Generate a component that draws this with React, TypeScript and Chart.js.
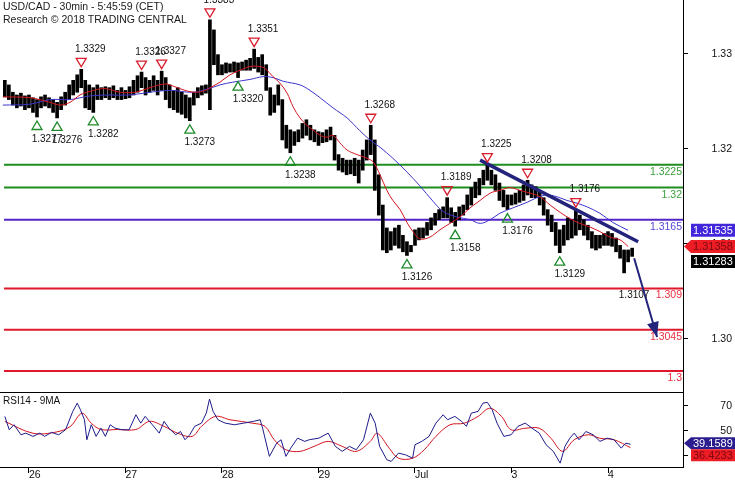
import { useEffect, useRef } from 'react';
import { Chart, registerables } from 'chart.js';

Chart.register(...registerables);

const FONT = '"Liberation Sans", Arial, sans-serif';

// ---- time axis (hours from the start of the 26th) ----
const DAY_TICKS = [0, 24, 48, 72, 96, 120, 144];
const DAY_LABELS = ['26', '27', '28', '29', 'Jul', '3', '4'];
const X_MIN = -7.2;
const X_MAX = 162.65;

// ---- price bars (hourly high / low) ----
const FIRST_BAR_HOUR = -6;
const HIGHS = [
  1.3317, 1.3312, 1.3304, 1.3301, 1.3303, 1.3300, 1.3301, 1.3298, 1.3296, 1.3299,
  1.3301, 1.3298, 1.3296, 1.3293, 1.3299, 1.3304, 1.3312, 1.3317, 1.3323, 1.3329,
  1.3317, 1.3312, 1.3309, 1.3312, 1.3309, 1.3310, 1.3309, 1.3311, 1.3306, 1.3309,
  1.3306, 1.3310, 1.3317, 1.3322, 1.3326, 1.3320, 1.3317, 1.3322, 1.3317, 1.3327,
  1.3320, 1.3312, 1.3306, 1.3309, 1.3304, 1.3301, 1.3298, 1.3304, 1.3309, 1.3311,
  1.3312, 1.3383, 1.3372, 1.3345, 1.3334, 1.3336, 1.3335, 1.3337, 1.3336, 1.3337,
  1.3339, 1.3341, 1.3351, 1.3342, 1.3345, 1.3334, 1.3309, 1.3301, 1.3312, 1.3296,
  1.3268, 1.3263, 1.3261, 1.3263, 1.3270, 1.3274, 1.3268, 1.3263, 1.3261, 1.3260,
  1.3263, 1.3266, 1.3257, 1.3236, 1.3232, 1.3230, 1.3230, 1.3232, 1.3230, 1.3241,
  1.3252, 1.3268, 1.3252, 1.3214, 1.3181, 1.3156, 1.3152, 1.3156, 1.3159, 1.3148,
  1.3141, 1.3137, 1.3154, 1.3156, 1.3156, 1.3162, 1.3167, 1.3172, 1.3176, 1.3179,
  1.3189, 1.3178, 1.3173, 1.3179, 1.3181, 1.3192, 1.3200, 1.3206, 1.3210, 1.3219,
  1.3225, 1.3219, 1.3214, 1.3205, 1.3197, 1.3192, 1.3192, 1.3194, 1.3197, 1.3203,
  1.3208, 1.3203, 1.3201, 1.3197, 1.3189, 1.3176, 1.3170, 1.3162, 1.3154, 1.3159,
  1.3167, 1.3165, 1.3176, 1.3170, 1.3165, 1.3159, 1.3152, 1.3148, 1.3148, 1.3150,
  1.3152, 1.3150, 1.3145, 1.3137, 1.3132, 1.3132, 1.3134,
];
const LOWS = [
  1.3299, 1.3296, 1.3290, 1.3287, 1.3289, 1.3285, 1.3287, 1.3282, 1.3277, 1.3287,
  1.3289, 1.3287, 1.3282, 1.3276, 1.3285, 1.3290, 1.3296, 1.3301, 1.3304, 1.3309,
  1.3287, 1.3285, 1.3282, 1.3296, 1.3296, 1.3298, 1.3296, 1.3298, 1.3296, 1.3296,
  1.3297, 1.3298, 1.3301, 1.3304, 1.3309, 1.3301, 1.3304, 1.3306, 1.3301, 1.3306,
  1.3296, 1.3287, 1.3285, 1.3282, 1.3280, 1.3276, 1.3273, 1.3290, 1.3298, 1.3301,
  1.3303, 1.3285, 1.3334, 1.3323, 1.3323, 1.3325, 1.3326, 1.3326, 1.3320, 1.3328,
  1.3328, 1.3328, 1.3330, 1.3326, 1.3323, 1.3306, 1.3279, 1.3282, 1.3290, 1.3252,
  1.3243, 1.3238, 1.3246, 1.3250, 1.3254, 1.3257, 1.3252, 1.3250, 1.3246, 1.3249,
  1.3250, 1.3252, 1.3230, 1.3219, 1.3217, 1.3214, 1.3215, 1.3213, 1.3205, 1.3219,
  1.3230, 1.3236, 1.3197, 1.3170, 1.3132, 1.3129, 1.3132, 1.3137, 1.3134, 1.3130,
  1.3126, 1.3130, 1.3137, 1.3143, 1.3145, 1.3148, 1.3154, 1.3159, 1.3165, 1.3167,
  1.3167, 1.3162, 1.3158, 1.3165, 1.3170, 1.3176, 1.3181, 1.3189, 1.3192, 1.3203,
  1.3208, 1.3203, 1.3197, 1.3186, 1.3179, 1.3176, 1.3181, 1.3182, 1.3184, 1.3186,
  1.3192, 1.3189, 1.3189, 1.3181, 1.3170, 1.3159, 1.3152, 1.3137, 1.3129, 1.3137,
  1.3143, 1.3145, 1.3148, 1.3154, 1.3148, 1.3143, 1.3134, 1.3132, 1.3134, 1.3137,
  1.3137, 1.3136, 1.3130, 1.3123, 1.3107, 1.3119, 1.3125,
];
const LAST_CLOSE = 1.31283;

// ---- moving averages on price ----
const RED_MA_H = [
  -6.5, 0.3, 5.2, 7.7, 10.2, 12.7, 15.2, 18.9, 22.6, 26.4, 30.1, 33.8, 36.3, 38.8, 41.3,
  43.8, 45.5, 47.5, 50.0, 52.5, 55.0, 57.5, 58.7, 60.7, 62.4, 64.2, 65.7, 67.4, 69.1, 70.6,
  72.4, 74.1, 75.6, 77.3, 79.1, 81.6, 84.1, 85.6, 87.3, 89.0, 90.5, 92.3, 94.0, 95.5, 97.2,
  99.7, 102.2, 104.7, 107.2, 109.7, 112.2, 114.7, 117.1, 119.6, 122.1, 124.6, 127.1, 129.6,
  132.1, 134.6, 137.0, 139.5, 142.0, 144.5, 147.0, 149.0,
];
const RED_MA_V = [
  1.3299, 1.3298, 1.3293, 1.3290, 1.3293, 1.3301, 1.3305, 1.3308, 1.3304, 1.3304, 1.3309,
  1.3313, 1.3310, 1.3306, 1.3304, 1.3306, 1.3310, 1.3315, 1.3323, 1.3328, 1.3332, 1.3332,
  1.3330, 1.3321, 1.3314, 1.3303, 1.3288, 1.3276, 1.3268, 1.3263, 1.3257, 1.3255, 1.3257,
  1.3249, 1.3241, 1.3236, 1.3232, 1.3228, 1.3214, 1.3197, 1.3186, 1.3176, 1.3162, 1.3152,
  1.3144, 1.3146, 1.3154, 1.3161, 1.3168, 1.3178, 1.3186, 1.3194, 1.3197, 1.3200, 1.3197,
  1.3194, 1.3190, 1.3181, 1.3173, 1.3166, 1.3161, 1.3157, 1.3152, 1.3146, 1.3143, 1.31358,
];
const BLUE_MA_H = [
  -6.5, 0.3, 5.2, 10.2, 15.2, 20.1, 25.1, 30.1, 35.1, 40.0, 42.5, 47.5, 50.7, 55.0, 58.2,
  60.7, 63.2, 67.4, 69.9, 72.4, 75.6, 79.1, 82.3, 84.8, 87.3, 90.5, 94.0, 97.2, 100.5, 103.0,
  106.4, 109.7, 112.2, 114.7, 117.1, 120.4, 123.9, 126.3, 128.8, 131.3, 133.8, 136.3, 138.8,
  142.0, 145.2, 149.0,
];
const BLUE_MA_V = [
  1.3290, 1.3291, 1.3296, 1.3296, 1.3300, 1.3301, 1.3301, 1.3304, 1.3306, 1.3304, 1.3305,
  1.3312, 1.3315, 1.3318, 1.3321, 1.3320, 1.3316, 1.3312, 1.3306, 1.3298, 1.3287, 1.3276,
  1.3262, 1.3252, 1.3244, 1.3232, 1.3217, 1.3202, 1.3185, 1.3174, 1.3168, 1.3165, 1.3161,
  1.3165, 1.3172, 1.3178, 1.3184, 1.3189, 1.3192, 1.3190, 1.3186, 1.3183, 1.3179, 1.3172,
  1.3162, 1.31535,
];

// ---- support / resistance levels ----
const LEVELS = [1.3225, 1.32, 1.3165, 1.309, 1.3045, 1.3];
const LEVEL_START_H = -6.2;

// ---- trend line and projection arrow ----
const TREND_H = [112.2, 151.5];
const TREND_V = [1.323, 1.3141];
const ARROW_H = [150.5, 156.2];
const ARROW_V = [1.3123, 1.3037];

// ---- pivots ----
const PIVOT_HIGH_H = [13, 28, 33, 45, 56, 85, 104, 114, 124, 136];
const PIVOT_HIGH_V = [1.3329, 1.3326, 1.3327, 1.3383, 1.3351, 1.3268, 1.3189, 1.3225, 1.3208, 1.3176];
const PIVOT_LOW_H = [2, 7, 16, 40, 52, 65, 94, 106, 119, 132, 148];
const PIVOT_LOW_V = [1.3277, 1.3276, 1.3282, 1.3273, 1.332, 1.3238, 1.3126, 1.3158, 1.3176, 1.3129, 1.3107];
const PIVOT_LOW_MARKED = [true, true, true, true, true, true, true, true, true, true, false];

// ---- price axis (as printed) ----
const PRICE_AXIS_TICKS = [1.3, 1.31, 1.32, 1.33];

// ---- RSI ----
const RSI_H = [
  -6.0, -4.9, -3.7, -2.0, -0.8, 1.0, 2.7, 3.9, 5.6, 7.4, 9.1, 10.9, 12.0, 12.8, 13.8, 14.4,
  15.5, 16.7, 17.9, 19.0, 20.2, 21.4, 23.1, 24.9, 26.6, 27.8, 28.9, 30.7, 32.4, 33.6, 34.8,
  36.5, 37.7, 38.8, 40.0, 41.2, 42.9, 44.1, 44.9, 45.8, 47.0, 48.8, 51.1, 53.4, 55.8, 57.5,
  58.1, 59.8, 61.6, 62.7, 63.9, 65.1, 66.8, 68.6, 69.7, 72.1, 74.4, 76.2, 77.9, 79.7, 81.4,
  83.2, 84.9, 86.1, 87.2, 89.0, 90.1, 91.9, 93.6, 95.4, 96.0, 97.7, 99.5, 101.2, 103.0, 104.1,
  105.9, 107.6, 108.8, 110.0, 111.7, 112.9, 114.0, 115.2, 116.4, 118.1, 119.9, 121.6, 123.4,
  125.1, 126.9, 128.6, 130.4, 132.1, 133.3, 134.5, 135.6, 136.8, 138.5, 140.3, 142.0, 143.8,
  145.5, 147.3, 148.4, 149.6,
];
const RSI_V = [
  61.5, 50.8, 54.8, 46.8, 48.1, 45.5, 48.1, 45.5, 48.7, 46.8, 50.8, 65.5, 72.1, 66.8, 58.8, 42.8,
  54.8, 45.5, 52.1, 45.5, 54.8, 52.1, 50.8, 50.8, 62.8, 56.1, 61.5, 54.8, 48.1, 57.5, 52.1,
  46.8, 49.4, 42.8, 46.8, 53.5, 56.1, 64.1, 75.3, 65.5, 58.8, 56.1, 54.8, 56.1, 57.5, 58.8,
  52.1, 29.5, 40.1, 42.8, 29.5, 36.1, 44.1, 41.5, 42.8, 44.1, 48.1, 37.5, 33.5, 37.5, 34.8,
  42.8, 64.1, 56.1, 37.5, 26.8, 25.5, 32.1, 30.8, 28.1, 38.8, 41.5, 45.5, 56.1, 62.8, 58.8,
  61.5, 57.5, 53.5, 64.1, 65.5, 72.1, 72.7, 66.8, 56.1, 45.5, 46.8, 53.5, 56.1,
  52.1, 48.1, 38.8, 33.5, 24.1, 37.5, 44.1, 48.1, 42.8, 49.4, 46.8, 41.5, 44.1,
  42.8, 36.1, 40.1, 39.1589,
];
const RSI_MA_H = [
  -6.0, 1.0, 6.8, 10.3, 13.2, 15.5, 17.9, 22.0, 26.6, 30.0, 33.6, 37.0, 40.6, 42.9, 46.4, 50.0,
  55.7, 58.7, 61.0, 63.9, 67.4, 70.9, 74.4, 77.9, 81.4, 84.9, 86.6, 89.6, 91.9, 95.4, 98.3,
  101.2, 104.7, 108.2, 111.7, 114.6, 117.5, 119.9, 123.4, 126.9, 129.8, 132.7, 135.6, 139.1,
  142.0, 145.5, 149.6,
];
const RSI_MA_V = [
  57.5, 48.0, 49.0, 53.5, 64.0, 56.0, 51.0, 51.0, 51.0, 57.5, 53.5, 48.0, 45.5, 53.5, 61.5, 58.8,
  56.0, 53.5, 42.8, 34.8, 33.5, 37.5, 41.5, 37.5, 33.5, 41.5, 48.0, 36.0, 28.0, 28.0, 34.8,
  45.5, 54.8, 56.0, 61.5, 68.0, 61.5, 50.8, 52.0, 52.0, 44.0, 33.5, 42.8, 46.8,
  44.0, 42.8, 36.4233,
];
const RSI_TICKS = [30, 50, 70];

// ---- styles ----
const C_RED_MA = '#d3141e';
const C_BLUE_MA = '#3b35cc';
const C_RSI = '#1d1b8a';
const C_RSI_MA = '#d3141e';
const C_TREND = '#23237c';
const LEVEL_LINE_COLORS = ['#1e8c1e', '#1e8c1e', '#5424c8', '#e0182c', '#e0182c', '#e0182c'];
const LEVEL_TEXT_COLORS = ['#3a9f3a', '#3a9f3a', '#5546d8', '#e8303e', '#e8303e', '#e8303e'];

const zip = (xs: number[], ys: number[]) => xs.map((x, i) => ({ x, y: ys[i] }));

const noPad = (s: any) => {
  s.paddingTop = 0;
  s.paddingBottom = 0;
  s.paddingLeft = 0;
  s.paddingRight = 0;
};

function drawTag(ctx: CanvasRenderingContext2D, yc: number, text: string, bg: string, fg: string, pointer: boolean, h = 13) {
  const left = 691;
  const right = 735;
  ctx.fillStyle = bg;
  ctx.beginPath();
  if (pointer) {
    ctx.moveTo(684, yc);
    ctx.lineTo(left, yc - h / 2);
  } else {
    ctx.moveTo(left, yc - h / 2);
  }
  ctx.lineTo(right, yc - h / 2);
  ctx.lineTo(right, yc + h / 2);
  ctx.lineTo(left, yc + h / 2);
  ctx.closePath();
  ctx.fill();
  ctx.fillStyle = fg;
  ctx.font = `11px ${FONT}`;
  ctx.textAlign = 'left';
  ctx.textBaseline = 'middle';
  ctx.fillText(text, left + 2, yc + 0.5);
}

function tri(ctx: CanvasRenderingContext2D, cx: number, cy: number, down: boolean, color: string) {
  ctx.beginPath();
  if (down) {
    ctx.moveTo(cx - 5, cy - 4);
    ctx.lineTo(cx + 5, cy - 4);
    ctx.lineTo(cx, cy + 4.5);
  } else {
    ctx.moveTo(cx - 5, cy + 4);
    ctx.lineTo(cx + 5, cy + 4);
    ctx.lineTo(cx, cy - 4.5);
  }
  ctx.closePath();
  ctx.strokeStyle = color;
  ctx.lineWidth = 1.3;
  ctx.stroke();
}

const mainOverlay = {
  id: 'mainOverlay',
  afterDatasetsDraw(chart: any) {
    const { ctx, chartArea } = chart;
    const x = chart.scales.x;
    const y = chart.scales.y;
    ctx.save();
    // level labels
    ctx.font = `10.5px ${FONT}`;
    ctx.textAlign = 'right';
    ctx.textBaseline = 'middle';
    LEVELS.forEach((lv, i) => {
      ctx.fillStyle = LEVEL_TEXT_COLORS[i];
      ctx.fillText(String(lv), chartArea.right - 1, y.getPixelForValue(lv) + 7);
    });
    // arrow head
    const x0 = x.getPixelForValue(ARROW_H[0]);
    const y0 = y.getPixelForValue(ARROW_V[0]);
    const x1 = x.getPixelForValue(ARROW_H[1]);
    const y1 = y.getPixelForValue(ARROW_V[1]);
    const len = Math.hypot(x1 - x0, y1 - y0);
    const dx = (x1 - x0) / len;
    const dy = (y1 - y0) / len;
    ctx.fillStyle = C_TREND;
    ctx.beginPath();
    ctx.moveTo(x1, y1);
    ctx.lineTo(x1 - dx * 15 - dy * 6, y1 - dy * 15 + dx * 6);
    ctx.lineTo(x1 - dx * 15 + dy * 6, y1 - dy * 15 - dx * 6);
    ctx.closePath();
    ctx.fill();
    // pivots
    ctx.font = `10px ${FONT}`;
    ctx.textAlign = 'center';
    ctx.fillStyle = '#111';
    PIVOT_HIGH_H.forEach((h, i) => {
      const px = x.getPixelForValue(h);
      const py = y.getPixelForValue(PIVOT_HIGH_V[i]);
      tri(ctx, px, py - 7, true, '#d81e2c');
      ctx.fillStyle = '#111';
      ctx.fillText(PIVOT_HIGH_V[i].toFixed(4), px + 9, py - 20);
    });
    PIVOT_LOW_H.forEach((h, i) => {
      const px = x.getPixelForValue(h);
      const py = y.getPixelForValue(PIVOT_LOW_V[i]);
      if (PIVOT_LOW_MARKED[i]) tri(ctx, px, py + 8.5, false, '#1f8a2a');
      ctx.fillStyle = '#111';
      ctx.fillText(PIVOT_LOW_V[i].toFixed(4), px + 10, py + 22);
    });
    ctx.restore();
  },
  afterDraw(chart: any) {
    const { ctx } = chart;
    const y = chart.scales.y;
    ctx.save();
    // title
    ctx.font = `10.5px ${FONT}`;
    ctx.fillStyle = '#1a1a1a';
    ctx.textAlign = 'left';
    ctx.textBaseline = 'middle';
    ctx.fillText('USD/CAD - 30min - 5:45:59 (CET)', 3, 7);
    ctx.fillText('Research \u00A9 2018 TRADING CENTRAL', 3, 20);
    // value tags
    const tags = [
      { v: BLUE_MA_V[BLUE_MA_V.length - 1], bg: '#4126dc', fg: '#fff', pointer: false },
      { v: RED_MA_V[RED_MA_V.length - 1], bg: '#ee1c25', fg: '#7a0a10', pointer: true },
      { v: LAST_CLOSE, bg: '#000', fg: '#fff', pointer: false },
    ];
    let prev = -100;
    tags.forEach((t) => {
      let yc = y.getPixelForValue(t.v);
      if (yc < prev + 15) yc = prev + 15;
      prev = yc;
      drawTag(ctx, yc, t.v.toFixed(5), t.bg, t.fg, t.pointer);
    });
    ctx.restore();
  },
};

const rsiOverlay = {
  id: 'rsiOverlay',
  afterDraw(chart: any) {
    const { ctx, chartArea } = chart;
    const y = chart.scales.y;
    ctx.save();
    ctx.strokeStyle = '#000';
    ctx.lineWidth = 1;
    ctx.beginPath();
    ctx.moveTo(0, 0.5);
    ctx.lineTo(chartArea.right, 0.5);
    ctx.stroke();
    ctx.font = `10px ${FONT}`;
    ctx.fillStyle = '#111';
    ctx.textAlign = 'left';
    ctx.textBaseline = 'middle';
    ctx.fillText('RSI14 - 9MA', 3, 9);
    const vBlue = RSI_V[RSI_V.length - 1];
    const vRed = RSI_MA_V[RSI_MA_V.length - 1];
    const yb = y.getPixelForValue(vBlue) - 1;
    let yr = y.getPixelForValue(vRed);
    if (yr < yb + 12) yr = yb + 12;
    drawTag(ctx, yb, vBlue.toFixed(4), '#2b1d8e', '#fff', true, 12);
    drawTag(ctx, yr, vRed.toFixed(4), '#ee1c25', '#7a0a10', false, 12);
    ctx.restore();
  },
};

export default function App() {
  const mainRef = useRef<HTMLCanvasElement>(null);
  const rsiRef = useRef<HTMLCanvasElement>(null);

  useEffect(() => {
    const levelSets = LEVELS.map((lv, i) => ({
      type: 'line' as const,
      data: [
        { x: LEVEL_START_H, y: lv },
        { x: X_MAX, y: lv },
      ],
      borderColor: LEVEL_LINE_COLORS[i],
      borderWidth: 2,
      pointRadius: 0,
      order: 10,
    }));

    const main = new Chart(mainRef.current as HTMLCanvasElement, {
      type: 'bar',
      data: {
        datasets: [
          ...levelSets,
          {
            type: 'bar' as const,
            data: HIGHS.map((hi, i) => ({ x: FIRST_BAR_HOUR + i, y: [LOWS[i], hi] })) as any,
            backgroundColor: '#000',
            borderWidth: 0,
            barThickness: 3,
            order: 5,
          },
          {
            type: 'line' as const,
            data: zip(BLUE_MA_H, BLUE_MA_V),
            borderColor: C_BLUE_MA,
            borderWidth: 1,
            pointRadius: 0,
            tension: 0.35,
            order: 3,
          },
          {
            type: 'line' as const,
            data: zip(RED_MA_H, RED_MA_V),
            borderColor: C_RED_MA,
            borderWidth: 1,
            pointRadius: 0,
            tension: 0.35,
            order: 2,
          },
          {
            type: 'line' as const,
            data: zip(TREND_H, TREND_V),
            borderColor: C_TREND,
            borderWidth: 3.5,
            pointRadius: 0,
            order: 1,
          },
          {
            type: 'line' as const,
            data: zip(ARROW_H, ARROW_V),
            borderColor: C_TREND,
            borderWidth: 2,
            pointRadius: 0,
            order: 1,
          },
        ] as any,
      },
      options: {
        responsive: false,
        animation: false,
        events: [],
        layout: { padding: { left: 0, right: 3, top: 0, bottom: 0 } },
        plugins: { legend: { display: false }, tooltip: { enabled: false } },
        scales: {
          x: { type: 'linear', min: X_MIN, max: X_MAX, display: false, offset: false },
          y: { type: 'linear', min: 1.29771, max: 1.34046, display: false },
          yr: {
            type: 'linear',
            position: 'right',
            min: 1.29442,
            max: 1.33568,
            afterBuildTicks: (s: any) => {
              s.ticks = PRICE_AXIS_TICKS.map((v) => ({ value: v }));
            },
            afterFit: (s: any) => {
              s.width = 49;
              noPad(s);
            },
            grid: { drawOnChartArea: false, drawTicks: true, tickLength: 5, color: '#000' },
            border: { display: true, color: '#000', width: 1 },
            ticks: {
              crossAlign: 'far',
              padding: 4,
              color: '#111',
              font: { family: FONT, size: 10.5 },
              callback: (v: any) => Number(v).toFixed(2),
            },
          },
        } as any,
      },
      plugins: [mainOverlay],
    });

    const rsi = new Chart(rsiRef.current as HTMLCanvasElement, {
      type: 'line',
      data: {
        datasets: [
          {
            data: zip(RSI_MA_H, RSI_MA_V),
            borderColor: C_RSI_MA,
            borderWidth: 1,
            pointRadius: 0,
            tension: 0.35,
            order: 2,
          },
          {
            data: zip(RSI_H, RSI_V),
            borderColor: C_RSI,
            borderWidth: 1,
            pointRadius: 0,
            tension: 0,
            order: 1,
          },
        ],
      },
      options: {
        responsive: false,
        animation: false,
        events: [],
        layout: { padding: { left: 0, right: 3, top: 0, bottom: 0 } },
        plugins: { legend: { display: false }, tooltip: { enabled: false } },
        scales: {
          x: {
            type: 'linear',
            min: X_MIN,
            max: X_MAX,
            afterBuildTicks: (s: any) => {
              s.ticks = DAY_TICKS.map((v) => ({ value: v }));
            },
            afterFit: (s: any) => {
              s.height = 13;
              noPad(s);
            },
            grid: { drawOnChartArea: false, drawTicks: true, tickLength: 6, color: '#000' },
            border: { display: true, color: '#000', width: 1 },
            ticks: {
              align: 'start',
              padding: -4,
              maxRotation: 0,
              autoSkip: false,
              color: '#111',
              font: { family: FONT, size: 10.5 },
              callback: (_v: any, i: number) => DAY_LABELS[i],
            },
          },
          y: {
            type: 'linear',
            position: 'right',
            min: 21,
            max: 81,
            afterBuildTicks: (s: any) => {
              s.ticks = RSI_TICKS.map((v) => ({ value: v }));
            },
            afterFit: (s: any) => {
              s.width = 49;
              noPad(s);
            },
            grid: { drawOnChartArea: false, drawTicks: true, tickLength: 5, color: '#000' },
            border: { display: true, color: '#000', width: 1 },
            ticks: {
              crossAlign: 'far',
              padding: 4,
              color: '#111',
              font: { family: FONT, size: 10.5 },
              callback: (v: any) => String(v),
            },
          },
        } as any,
      },
      plugins: [rsiOverlay],
    });

    return () => {
      main.destroy();
      rsi.destroy();
    };
  }, []);

  return (
    <div style={{ position: 'fixed', left: 0, top: 0, width: 735, height: 480, background: '#fff' }}>
      <canvas ref={mainRef} width={735} height={392} style={{ display: 'block' }} />
      <canvas ref={rsiRef} width={735} height={88} style={{ display: 'block' }} />
    </div>
  );
}
